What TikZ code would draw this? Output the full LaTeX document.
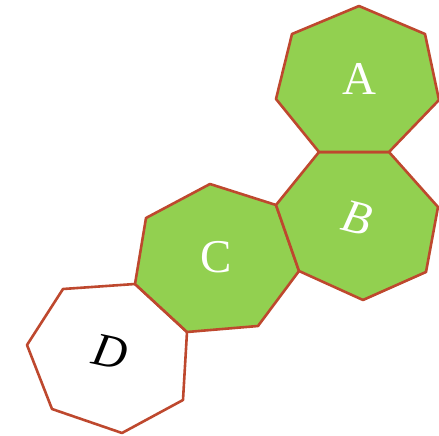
\documentclass[tikz,border=0pt]{standalone}
\usepackage{fontspec}
\setmainfont{Liberation Serif}
\definecolor{hgreen}{HTML}{92D050}
\definecolor{hred}{RGB}{190,72,46}
\tikzset{
  cell/.style={draw=hred, line width=2.6pt, line join=round, fill=hgreen},
  emptycell/.style={draw=hred, line width=2.6pt, line join=round, fill=white},
  lbl/.style={font=\fontsize{47}{47}\selectfont, text=white, inner sep=0pt},
}
\begin{document}
\begin{tikzpicture}[x=1pt,y=-1pt]
\useasboundingbox (0,0) rectangle (439,436);
% D
\draw[emptycell] (63,289) -- (135,284) -- (187,332) -- (183,400) -- (122,433) -- (52,409) -- (27,345) -- cycle;
% C
\draw[cell] (210,184) -- (276,205) -- (299,271) -- (258,326) -- (187,332) -- (135,284) -- (146,218) -- cycle;
% B
\draw[cell] (319,152) -- (389,152) -- (438,207) -- (426,272) -- (363,300) -- (299,271) -- (276,205) -- cycle;
% A
\draw[cell] (359,6) -- (425,34) -- (439,100) -- (389,152) -- (319,152) -- (276,99) -- (292,34) -- cycle;
\node[lbl] (la) at (359,79) {A};
\node[lbl, rotate=-14] (lb) at (357,218) {\itshape B};
\node[lbl] (lc) at (216,257) {C};
\node[lbl, text=black, rotate=-12] (ld) at (110,352) {\itshape D};
\end{tikzpicture}
\end{document}
